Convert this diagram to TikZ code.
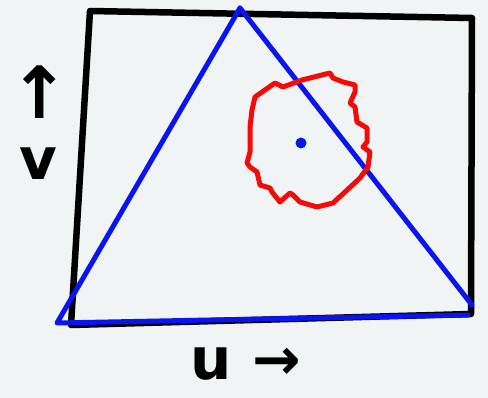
\documentclass[tikz,border=0pt]{standalone}
\usepackage{fontspec}
\newfontfamily\sketchfont{DejaVu Sans}
\usepackage{tikz}
\usetikzlibrary{positioning}
\definecolor{SketchBg}{HTML}{F0F4F4}
\definecolor{SketchBlue}{HTML}{0A14F0}
\definecolor{SketchRed}{HTML}{F50A0A}

\begin{document}
\begin{tikzpicture}[
    x=1pt,y=-1pt,
    frame/.style={draw=black,line width=6.5pt,line join=round,line cap=round},
    tri/.style={draw=SketchBlue,line width=5pt,line join=round,line cap=round},
    blob/.style={draw=SketchRed,line width=5pt,line join=round,line cap=round},
    lbl/.style={inner sep=0pt,font=\sketchfont\bfseries\fontsize{58}{58}\selectfont}
  ]
    \fill[SketchBg] (0,0) rectangle (488,398);
    \useasboundingbox (0,0) rectangle (488,398);
    % frame corners
    \coordinate (tl) at (90,11);
    \coordinate (tr) at (472,18);
    \coordinate (br) at (471,314);
    \coordinate (bl) at (71,325);
    \draw[frame] (tl)--(tr)--(br)--(bl)--cycle;
    % triangle
    \coordinate (apex) at (240,8);
    \coordinate (left) at (57,323);
    \coordinate (right) at (472,305);
    \coordinate (base) at (468,315);
    \draw[tri] (apex)--(left)--(base);
    \draw[tri] (apex)--(right);
    % region round the point
    \draw[blob] plot coordinates {(255,97) (275,83) (283,87) (302,80) (330,73)
      (333,78) (343,82) (355,85) (355,92) (350,103) (355,107) (357,122)
      (367,128) (367,142) (363,147) (370,152) (368,167) (360,178) (345,192)
      (333,203) (317,207) (300,202) (293,195) (290,193) (280,202) (272,192)
      (270,188) (260,185) (257,172) (250,167) (247,163) (250,152) (250,127)
      (252,110) (255,97)};
    \node[circle,fill=SketchBlue,inner sep=0pt,minimum size=11pt] (pt) at (301,143) {};
    % axis labels
    \node[lbl] (vlab) at (38,164) {v};
    \node[lbl,font=\sketchfont\bfseries\fontsize{72}{72}\selectfont] (varr) at (40,92) {↑};
    \node[lbl] (ulab) at (246,364) {u →};
  \end{tikzpicture}
\end{document}
